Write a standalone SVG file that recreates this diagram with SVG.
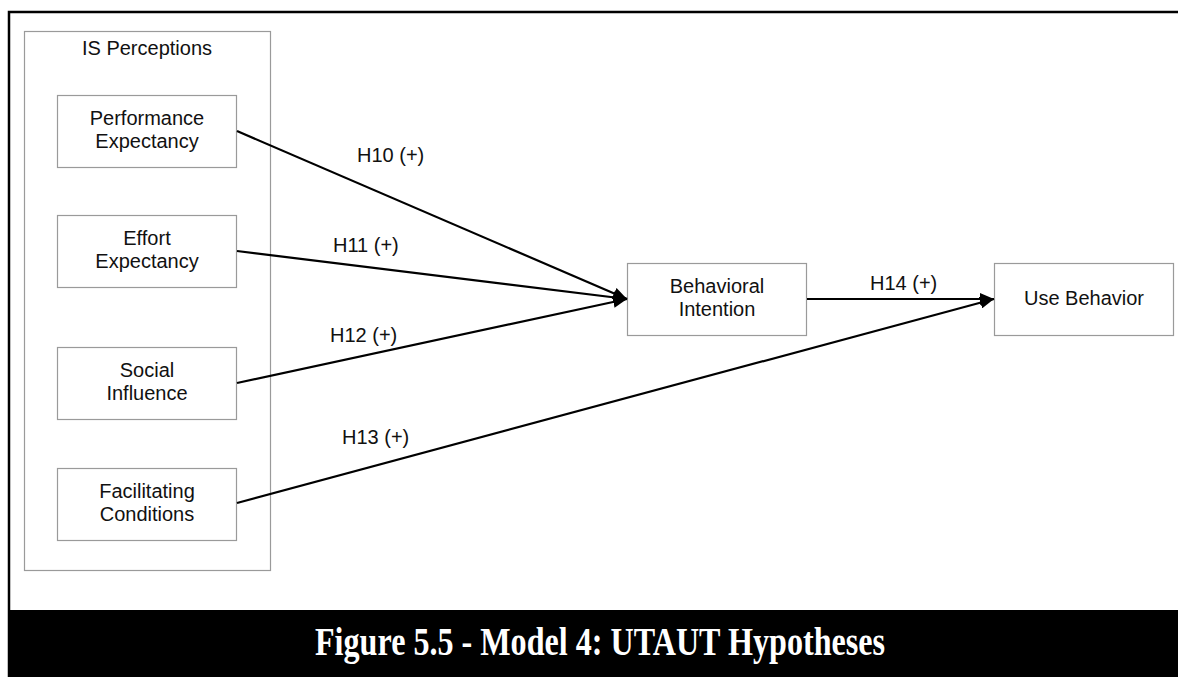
<svg xmlns="http://www.w3.org/2000/svg" width="1178" height="677" viewBox="0 0 1178 677">
  <style>
    .box { fill: #ffffff; stroke: #9a9a9a; stroke-width: 1.2; }
    .lbl { font-family: "Liberation Sans", Arial, sans-serif; font-size: 20px; fill: #111; text-anchor: middle; }
    .hyp { font-family: "Liberation Sans", Arial, sans-serif; font-size: 20px; fill: #111; }
    .edge { stroke: #000; stroke-width: 2.2; fill: none; marker-end: url(#arrow); }
    .title { font-family: "Liberation Serif", "Times New Roman", serif; font-weight: bold; font-size: 40px; fill: #fff; }
  </style>
  <defs>
    <marker id="arrow" viewBox="0 0 14 12" refX="14" refY="6" markerWidth="14" markerHeight="12" markerUnits="userSpaceOnUse" orient="auto">
      <path d="M0,0 L14,6 L0,12 Z" fill="#000"/>
    </marker>
  </defs>

  <rect x="0" y="0" width="1178" height="677" fill="#ffffff"/>

  <!-- page frame -->
  <path d="M9,677 L9,12 L1178,12" fill="none" stroke="#000" stroke-width="2.5"/>

  <!-- caption band -->
  <g id="caption">
    <rect x="8" y="610" width="1170" height="67" fill="#000"/>
    <text class="title" x="315" y="655" textLength="570" lengthAdjust="spacingAndGlyphs">Figure 5.5 - Model 4: UTAUT Hypotheses</text>
  </g>

  <!-- IS perceptions container -->
  <g id="is-perceptions">
    <rect class="box" x="24.5" y="31.5" width="246" height="539"/>
    <text class="lbl" x="147" y="55">IS Perceptions</text>
  </g>

  <g id="performance-expectancy">
    <rect class="box" x="57.5" y="95.5" width="179" height="72"/>
    <text class="lbl" x="147" y="125">Performance</text>
    <text class="lbl" x="147" y="148">Expectancy</text>
  </g>

  <g id="effort-expectancy">
    <rect class="box" x="57.5" y="215.5" width="179" height="72"/>
    <text class="lbl" x="147" y="245">Effort</text>
    <text class="lbl" x="147" y="268">Expectancy</text>
  </g>

  <g id="social-influence">
    <rect class="box" x="57.5" y="347.5" width="179" height="72"/>
    <text class="lbl" x="147" y="377">Social</text>
    <text class="lbl" x="147" y="400">Influence</text>
  </g>

  <g id="facilitating-conditions">
    <rect class="box" x="57.5" y="468.5" width="179" height="72"/>
    <text class="lbl" x="147" y="498">Facilitating</text>
    <text class="lbl" x="147" y="521">Conditions</text>
  </g>

  <g id="behavioral-intention">
    <rect class="box" x="627.5" y="263.5" width="179" height="72"/>
    <text class="lbl" x="717" y="293">Behavioral</text>
    <text class="lbl" x="717" y="316">Intention</text>
  </g>

  <g id="use-behavior">
    <rect class="box" x="994.5" y="263.5" width="179" height="72"/>
    <text class="lbl" x="1084" y="305">Use Behavior</text>
  </g>

  <!-- connectors -->
  <g id="connectors">
    <line class="edge" x1="237" y1="131" x2="627" y2="299"/>
    <line class="edge" x1="237" y1="251" x2="627" y2="299"/>
    <line class="edge" x1="237" y1="383" x2="627" y2="299"/>
    <line class="edge" x1="237" y1="503" x2="994" y2="299"/>
    <line class="edge" x1="807" y1="299" x2="994" y2="299"/>
  </g>

  <!-- hypothesis labels -->
  <g id="hypotheses">
    <text class="hyp" x="357" y="162">H10 (+)</text>
    <text class="hyp" x="333" y="252">H11 (+)</text>
    <text class="hyp" x="330" y="342">H12 (+)</text>
    <text class="hyp" x="342" y="444">H13 (+)</text>
    <text class="hyp" x="870" y="290">H14 (+)</text>
  </g>
</svg>
